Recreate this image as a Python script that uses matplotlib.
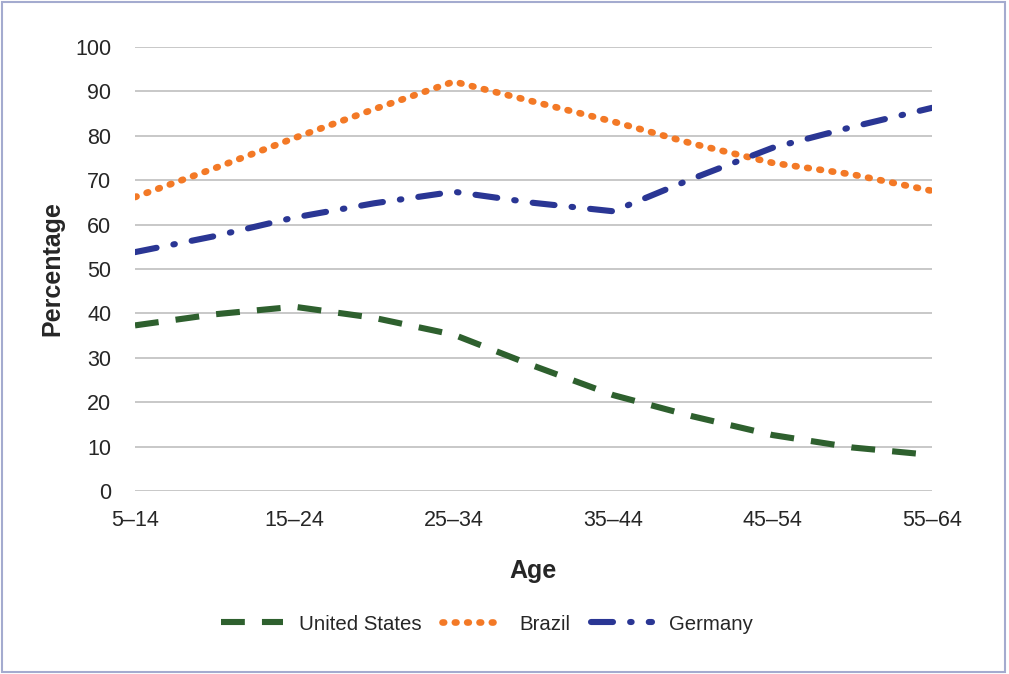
import matplotlib
matplotlib.use("Agg")
import matplotlib.pyplot as plt
from matplotlib.patches import Rectangle

plt.rcParams["font.family"] = ["Liberation Sans", "DejaVu Sans"]

AGE_LABELS = ["5–14", "15–24", "25–34", "35–44", "45–54", "55–64"]
# positions at half-steps between age groups
AGE_POS = [0, 0.5, 1, 1.5, 2, 2.5, 3, 3.5, 4, 4.5, 5]

US = [37.3, 39.8, 41.5, 39.0, 35.2, 28.2, 21.6, 16.8, 12.6, 9.8, 8.1]
BRAZIL = [66.2, 72.7, 79.5, 86.0, 92.2, 87.7, 83.2, 78.2, 73.9, 71.3, 67.6]
GERMANY = [53.8, 57.4, 61.6, 64.8, 67.4, 64.9, 63.0, 70.4, 77.3, 82.0, 86.3]

SERIES = ["United States", "Brazil", "Germany"]
COLORS = ["#2e602e", "#f37926", "#2a3694"]

TEXT = "#262626"


def main():
    fig = plt.figure(figsize=(10.09, 6.74), dpi=100)
    ax = fig.add_axes([135 / 1009, 1 - 491 / 674, (932 - 135) / 1009, (491 - 47) / 674])

    ax.plot(AGE_POS, US, color=COLORS[0], lw=4.4, linestyle=(0, (3.9, 2.8)),
            dash_capstyle="butt", label=SERIES[0], zorder=3)
    ax.plot(AGE_POS, BRAZIL, color=COLORS[1], lw=4.8, linestyle=(0, (0.25, 1.6)),
            dash_capstyle="round", label=SERIES[1], zorder=3)
    ax.plot(AGE_POS, GERMANY, color=COLORS[2], lw=4.4, linestyle=(0, (3.6, 2.8, 0.25, 2.8)),
            dash_capstyle="round", label=SERIES[2], zorder=3)

    ax.set_xlim(0, 5)
    ax.set_ylim(0, 100)
    ax.set_xticks(range(len(AGE_LABELS)))
    ax.set_xticklabels(AGE_LABELS)
    ax.set_yticks(range(0, 101, 10))
    ax.grid(True, axis="y", color="#c8c8c8", lw=1.4)
    ax.set_axisbelow(True)
    for s in ax.spines.values():
        s.set_visible(False)
    ax.tick_params(axis="both", length=0, labelsize=15.5, colors=TEXT)
    ax.tick_params(axis="y", pad=17)
    ax.tick_params(axis="x", pad=14)

    ax.set_ylabel("Percentage", fontsize=18, fontweight="bold", color=TEXT, labelpad=8)
    ax.set_xlabel("Age", fontsize=18, fontweight="bold", color=TEXT, labelpad=20)

    fig.legend(loc="center", bbox_to_anchor=(487 / 1009, 1 - 624 / 674), ncol=3,
               frameon=False, fontsize=14.7, handlelength=3.0, handletextpad=0.8,
               columnspacing=1.0, labelcolor=TEXT)

    fig.patches.append(Rectangle((2 / 1009, 2 / 674), 1003 / 1009, 670 / 674,
                                 transform=fig.transFigure, fill=False,
                                 edgecolor="#a4abcf", lw=1.5))

    fig.savefig("out.png", dpi=100, facecolor="white")


if __name__ == "__main__":
    main()
